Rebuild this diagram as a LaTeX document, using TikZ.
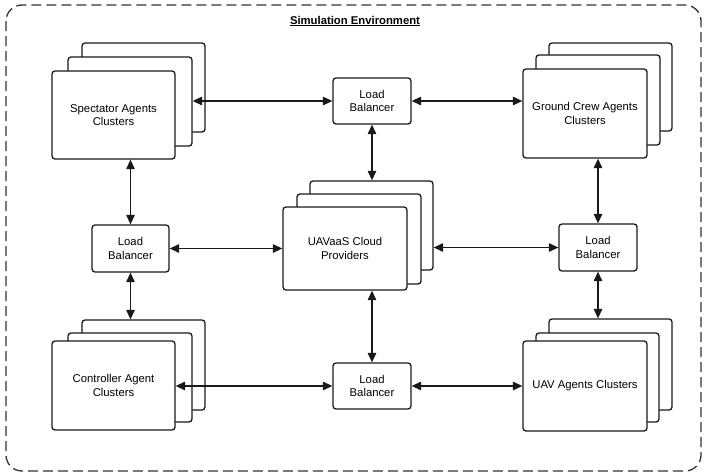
\documentclass[tikz,border=0pt]{standalone}
\usepackage{fontspec}
\setmainfont{Liberation Sans}
\usetikzlibrary{arrows.meta}
\tikzset{
  card/.style={draw=black!90, line width=1.3pt, rounded corners=3pt, fill=white, inner sep=0pt, align=center, font=\fontsize{11.3}{13.2}\selectfont},
  lb/.style={card},
  link/.style={line width=1.2pt, draw=black!90, {Triangle[length=9.5pt,width=8.5pt]}-{Triangle[length=9.5pt,width=8.5pt]}},
  frame/.style={draw=black!80, line width=1.3pt, dash pattern=on 10pt off 5pt, rounded corners=16pt}
}
\begin{document}
\begin{tikzpicture}[x=1pt,y=-1pt]
\useasboundingbox (0,0) rectangle (707,475);
\draw[frame] (6,5) rectangle (701,471);
\node[font=\bfseries\fontsize{11.3}{13}\selectfont] (title) at (355,21) {\underline{Simulation Environment}};

% Spectator cluster
\node[card, minimum width=123pt, minimum height=89pt] (spB) at (143.5,87.5) {};
\node[card, minimum width=124pt, minimum height=89pt] (spM) at (130,101.5) {};
\node[card, minimum width=123pt, minimum height=88pt] (spF) at (113.5,115) {Spectator Agents\\Clusters};

% Ground crew cluster
\node[card, minimum width=123pt, minimum height=88pt] (gcB) at (610.5,87) {};
\node[card, minimum width=124pt, minimum height=90pt] (gcM) at (598,100) {};
\node[card, minimum width=124pt, minimum height=89pt] (gcF) at (585,113.5) {Ground Crew Agents\\Clusters};

% UAVaaS cluster
\node[card, minimum width=123pt, minimum height=89pt] (cpB) at (371.5,225.5) {};
\node[card, minimum width=124pt, minimum height=90pt] (cpM) at (359,239) {};
\node[card, minimum width=124pt, minimum height=83pt] (cpF) at (345,248.5) {UAVaaS Cloud\\Providers};

% Controller cluster
\node[card, minimum width=123pt, minimum height=90pt] (ctB) at (143.5,365) {};
\node[card, minimum width=124pt, minimum height=89pt] (ctM) at (130,377.5) {};
\node[card, minimum width=123pt, minimum height=89pt] (ctF) at (113.5,385.5) {Controller Agent\\Clusters};

% UAV cluster
\node[card, minimum width=123pt, minimum height=91pt] (uvB) at (610.5,364.5) {};
\node[card, minimum width=123pt, minimum height=89pt] (uvM) at (597.5,377.5) {};
\node[card, minimum width=124pt, minimum height=90pt] (uvF) at (585,386) {UAV Agents Clusters};

% Load balancers
\node[lb, minimum width=78pt, minimum height=46pt] (lbT) at (372,101) {Load\\Balancer};
\node[lb, minimum width=77pt, minimum height=47pt] (lbL) at (130.5,248.5) {Load\\Balancer};
\node[lb, minimum width=78pt, minimum height=47pt] (lbR) at (598,247.5) {Load\\Balancer};
\node[lb, minimum width=78pt, minimum height=46pt] (lbB) at (372,386) {Load\\Balancer};

% Connectors
\draw[link] (lbT.west) -- (lbT.west -| spM.east);
\draw[link] (lbT.east) -- (lbT.east -| gcF.west);
\draw[link] (lbT.south) -- (lbT.south |- cpB.north);
\draw[link] (lbL.north) -- (lbL.north |- spF.south);
\draw[link] (lbL.south) -- (lbL.south |- ctB.north);
\draw[link] (lbL.east) -- (lbL.east -| cpF.west);
\draw[link] (lbR.west) -- (lbR.west -| cpB.east);
\draw[link] (lbR.north) -- (lbR.north |- gcF.south);
\draw[link] (lbR.south) -- (lbR.south |- uvB.north);
\draw[link] (lbB.north) -- (lbB.north |- cpF.south);
\draw[link] (lbB.west) -- (lbB.west -| ctF.east);
\draw[link] (lbB.east) -- (lbB.east -| uvF.west);
\end{tikzpicture}
\end{document}
